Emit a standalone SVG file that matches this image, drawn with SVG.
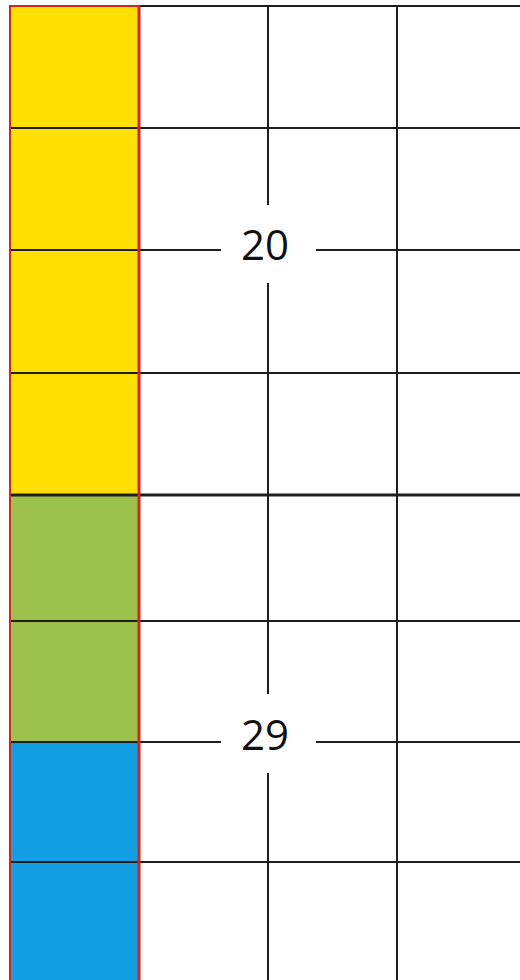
<svg xmlns="http://www.w3.org/2000/svg" width="520" height="980" viewBox="0 0 520 980">
<style>
.g{stroke:#1e1e1e;stroke-width:2;fill:none}
.gt{stroke:#1e1e1e;stroke-width:3;fill:none}
.num{font-family:"Open Sans","Liberation Sans",sans-serif;font-size:42px;fill:#111;text-anchor:middle}
</style>
<rect width="520" height="980" fill="#fff"/>
<g id="cells">
<rect x="10" y="6" width="129" height="489" fill="#FFE000"/>
<rect x="10" y="495" width="129" height="247" fill="#9DC24C"/>
<rect x="10" y="742" width="129" height="238" fill="#139FE2"/>
</g>
<g id="grid">
<line class="g" x1="10" y1="6" x2="520" y2="6"/>
<line class="g" x1="10" y1="128" x2="520" y2="128"/>
<line class="g" x1="10" y1="250" x2="221" y2="250"/>
<line class="g" x1="316" y1="250" x2="520" y2="250"/>
<line class="g" x1="10" y1="373" x2="520" y2="373"/>
<line class="gt" x1="10" y1="495" x2="520" y2="495"/>
<line class="g" x1="10" y1="621" x2="520" y2="621"/>
<line class="g" x1="10" y1="742" x2="221" y2="742"/>
<line class="g" x1="316" y1="742" x2="520" y2="742"/>
<line class="g" x1="10" y1="862" x2="520" y2="862"/>
<line class="g" x1="268" y1="6" x2="268" y2="205"/>
<line class="g" x1="268" y1="283" x2="268" y2="694"/>
<line class="g" x1="268" y1="773" x2="268" y2="980"/>
<line class="g" x1="397" y1="6" x2="397" y2="980"/>
</g>
<g id="border">
<path d="M10,980 V6 H139" stroke="#D2261C" stroke-width="2" fill="none"/>
<line x1="139" y1="5" x2="139" y2="980" stroke="#D2261C" stroke-width="3"/>
</g>
<g id="labels">
<text class="num" x="265" y="260">20</text>
<text class="num" x="265" y="750">29</text>
</g>
</svg>
